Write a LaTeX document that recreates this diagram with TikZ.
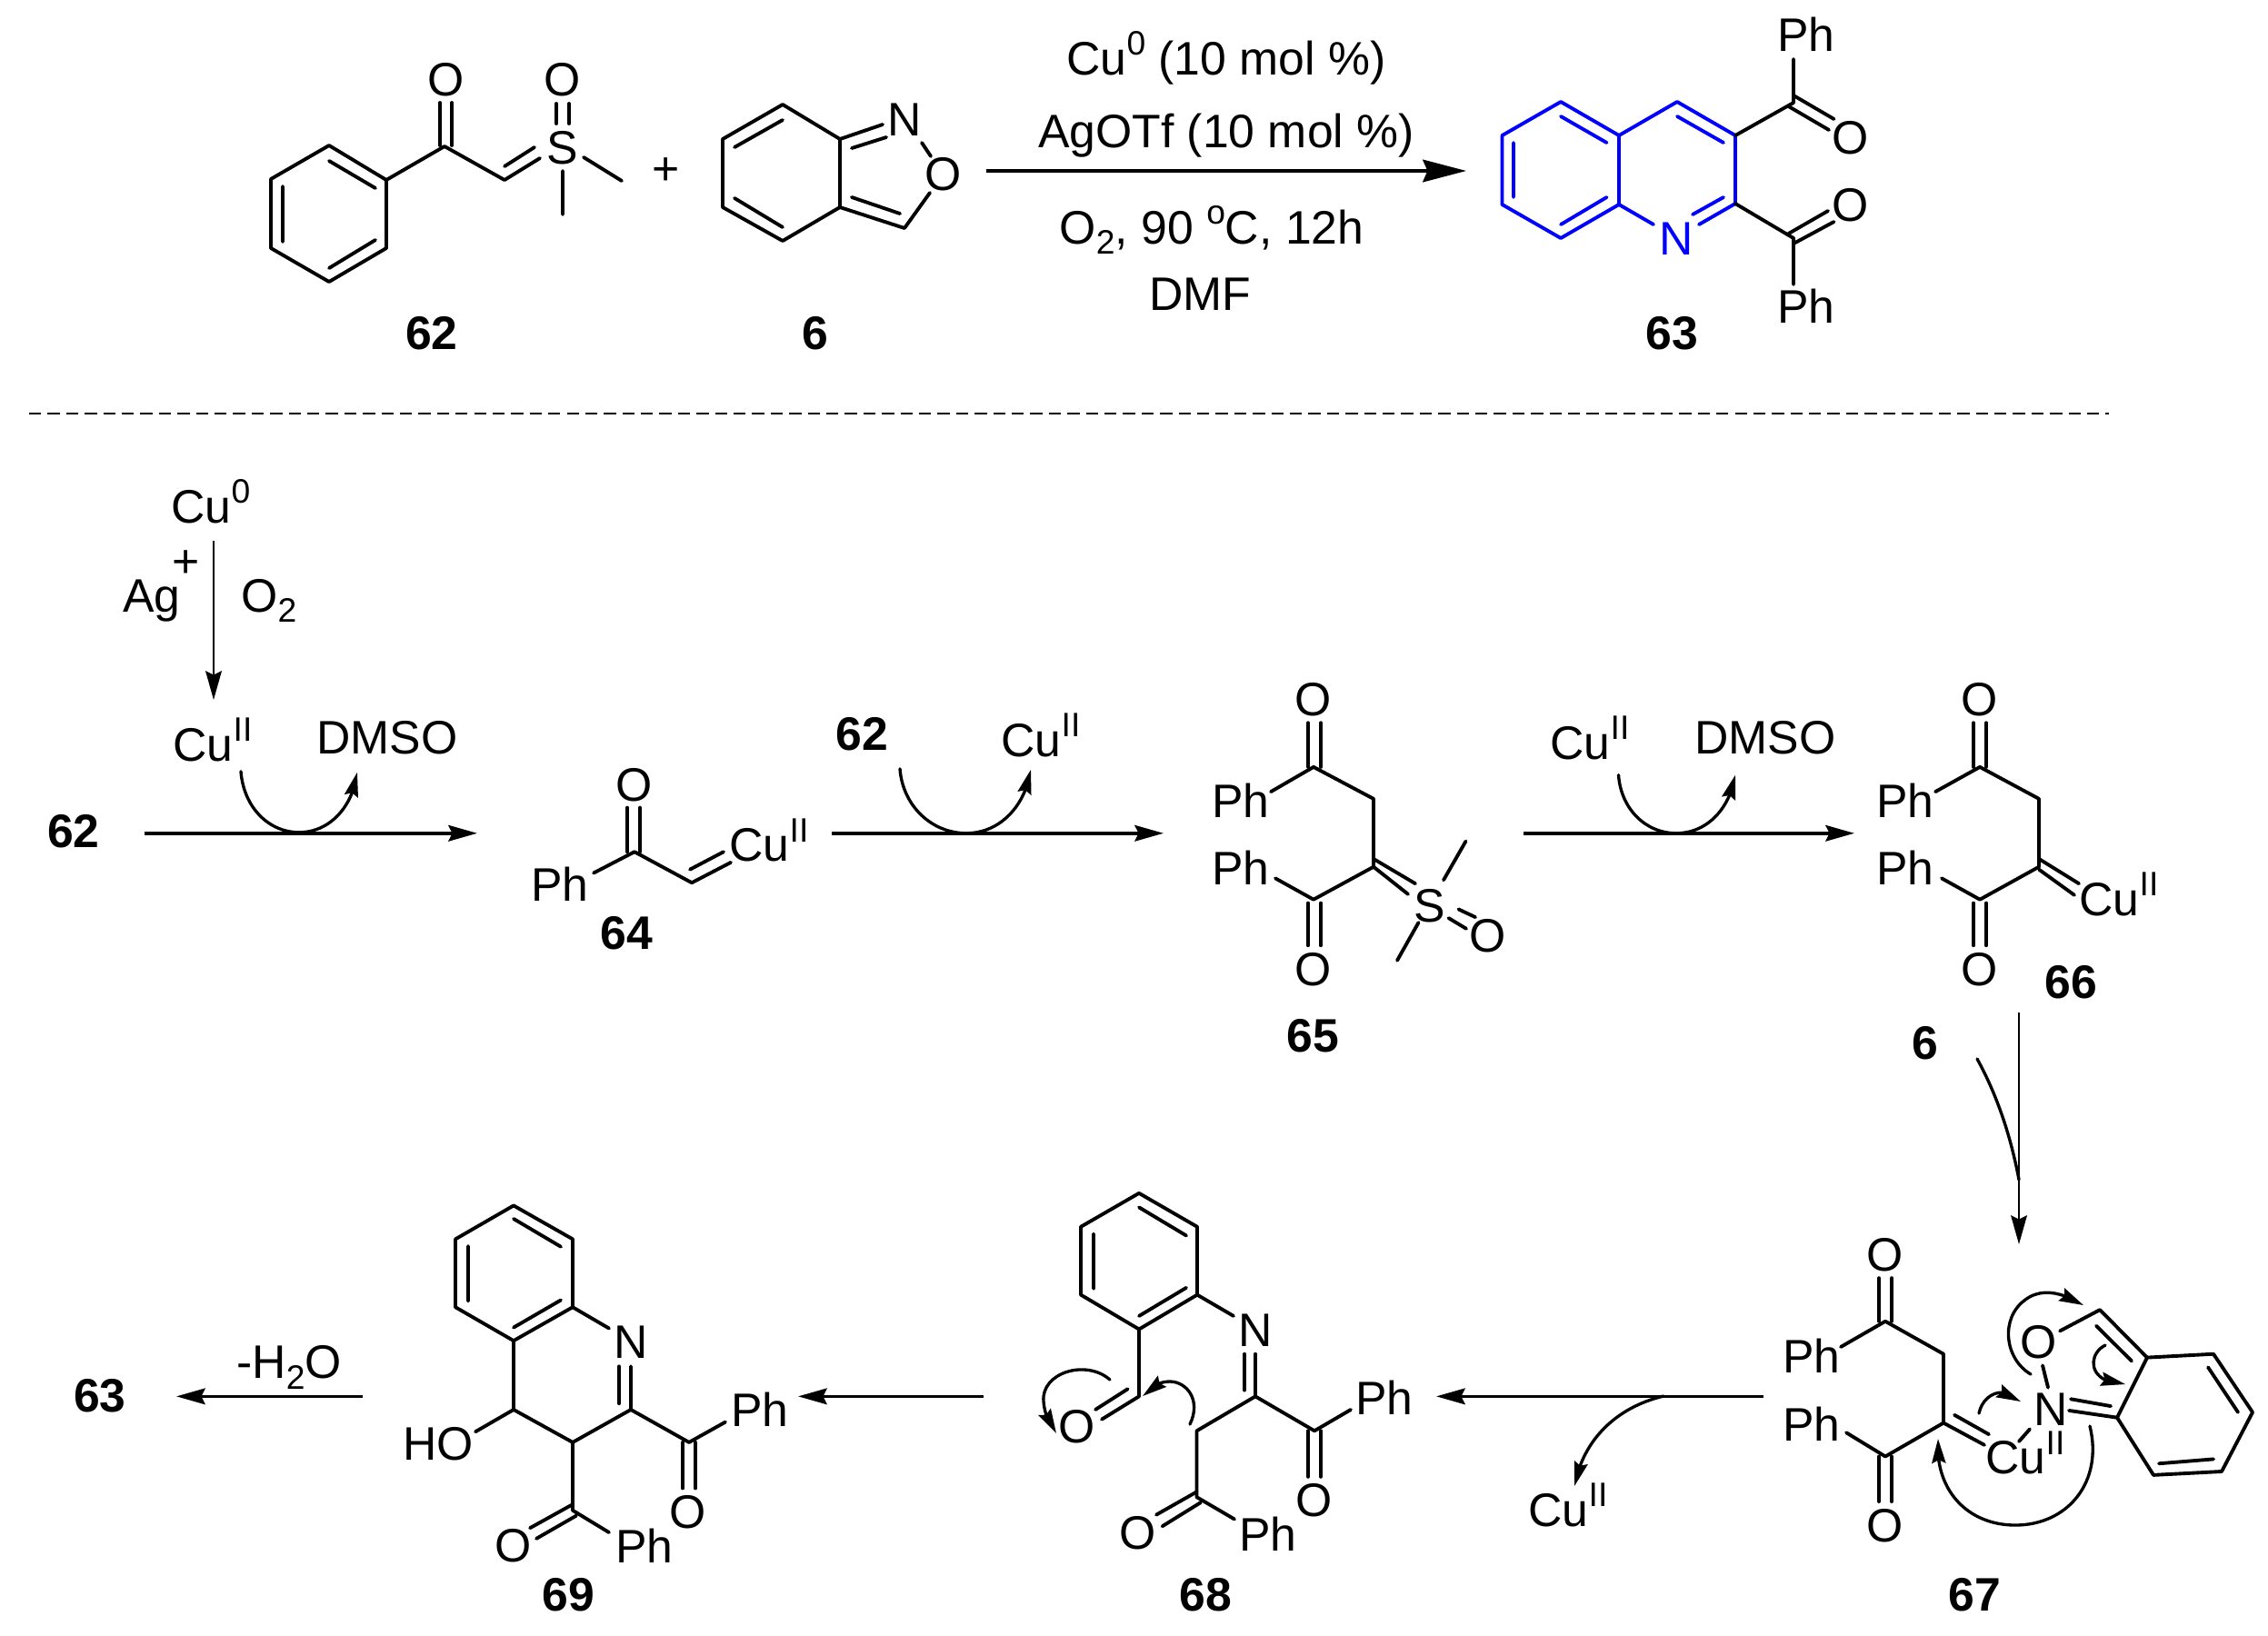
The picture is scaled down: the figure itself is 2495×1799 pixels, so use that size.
\documentclass[tikz,border=0pt]{standalone}
\usepackage{fontspec}
\setmainfont{Liberation Sans}
\usetikzlibrary{arrows.meta,bending}
\newcommand{\sU}[1]{\raisebox{0.42em}{\fontsize{10.6pt}{11pt}\selectfont #1}}
\newcommand{\sD}[1]{\raisebox{-0.22em}{\fontsize{10.6pt}{11pt}\selectfont #1}}
\tikzset{
  bond/.style={line width=1.1pt,line cap=round,line join=round},
  bluebond/.style={bond,draw={rgb,255:red,0;green,0;blue,255}},
  lbl/.style={anchor=base,yshift=-4.98pt,inner sep=0pt,font=\fontsize{14.7pt}{16pt}\selectfont},
  num/.style={lbl,font=\fontsize{14.7pt}{16pt}\selectfont\bfseries},
  tipS/.tip={Stealth[length=9pt,width=5pt,inset=1.2pt]},
  tipB/.tip={Stealth[length=13.6pt,width=7pt,inset=1.5pt]},
  tipC/.tip={Stealth[length=7.6pt,width=4.3pt,inset=1pt]},
  bigrxn/.style={line width=1.05pt,-{tipB}},
  rxn/.style={line width=1.05pt,-{tipS}},
  thinrxn/.style={line width=.8pt,-{tipS}},
  curve/.style={line width=.95pt,line cap=round,-{tipC}},
  rowtwo/.style={shift={(0,21.56)},yscale=.972},
  rowthree/.style={shift={(0,37.52)},yscale=.972},
}
\begin{document}
\begin{tikzpicture}[x=0.01cm,y=-0.01cm]
\useasboundingbox (0,0) rectangle (2495,1799);
% ---------- 62
\draw[bond] (362,160)--(425,198)--(425,273)--(362,310)--(298,273)--(298,197)--cycle;
\draw[bond] (362,177)--(413,207) (311,205)--(311,266) (362,295)--(413,264);
\draw[bond] (425,198)--(489,161)--(555,198)--(594,174);
\draw[bond] (555,183)--(588,162);
\draw[bond] (484,113)--(484,160) (497,113)--(497,160);
\draw[bond] (612,114)--(612,136) (626,114)--(626,136);
\draw[bond] (642,173)--(684,199) (619,188)--(619,236);
\node[lbl] (o62a) at (491,88) {O};
\node[lbl] (o62b) at (619,88) {O};
\node[lbl] (s62) at (619,163) {S};
\node[lbl] (plus) at (733,186) {+};
\node[num] (n62) at (475,367) {62};
% ---------- 6
\draw[bond] (861,115)--(924,153)--(924,228)--(861,265)--(795,228)--(795,153)--cycle;
\draw[bond] (861,132)--(808,162) (808,218)--(861,250);
\draw[bond] (924,153)--(971,137) (937,163)--(975,151);
\draw[bond] (1014,157)--(1024,172) (1023,212)--(995,251)--(924,228);
\draw[bond] (937,217)--(990,235);
\node[lbl] (n6n) at (995,132) {N};
\node[lbl] (n6o) at (1038,192) {O};
\node[num] (n6) at (897,367) {6};
% ---------- conditions
\coordinate (ma) at (1085,188);
\coordinate (mb) at (1613,188);
\draw[bigrxn] (ma)--(mb);
\node[lbl] (c1) at (1349,65) {Cu\sU{0} (10 mol \%)};
\node[lbl] (c2) at (1349,145) {AgOTf (10 mol \%)};
\node[lbl] (c3) at (1333,251) {O\sD{2}, 90 \sU{o}C, 12h};
\node[lbl] (c4) at (1320,324) {DMF};
% ---------- 63
\draw[bluebond] (1717,112)--(1781,149)--(1781,225)--(1717,262)--(1652.5,225)--(1652.5,149)--cycle;
\draw[bluebond] (1717,128)--(1767.5,157) (1665,157)--(1665,217) (1717,247)--(1767.5,217);
\draw[bluebond] (1781,149)--(1845,112)--(1909,149)--(1909,224)--(1869,247);
\draw[bluebond] (1845,128)--(1896,157) (1862,236)--(1896,217) (1781,225)--(1819,247);
\draw[bond] (1909,149)--(1973,113)--(1973,65);
\draw[bond] (1973,105)--(2017.5,131) (1967.5,117)--(2012,143);
\draw[bond] (1909,224)--(1973,262)--(1973,313);
\draw[bond] (1973,268)--(2017.5,244) (1967.5,257)--(2011,232);
\node[lbl,text={rgb,255:red,0;green,0;blue,255}] (n63n) at (1844,263) {N};
\node[lbl] (p63a) at (1987,39) {Ph};
\node[lbl] (p63b) at (1987,338) {Ph};
\node[lbl] (o63a) at (2036,152) {O};
\node[lbl] (o63b) at (2036,226) {O};
\node[num] (n63) at (1839,367) {63};
% ---------- dashed
\coordinate (da) at (32,455);
\coordinate (db) at (2320,455);
\draw[line width=.8pt,dash pattern=on 3.8pt off 2pt] (da)--(db);
% ---------- Cu0 step
\node[lbl] (cu0) at (232,558) {Cu\sU{0}};
\node[lbl] (ag) at (167,656) {Ag};
\node[lbl] (agp) at (205,618) {+};
\node[lbl] (o2) at (296,656) {O\sD{2}};
\coordinate (ca) at (235,595);
\coordinate (cb) at (235,770);
\draw[thinrxn] (ca)--(cb);
% ========== second row
\begin{scope}[rowtwo]
\node[lbl] (cu2a) at (234,821) {Cu\sU{II}};
\node[lbl] (dmso1) at (426,813) {DMSO};
\node[num] (n62b) at (81,919) {62};
\coordinate (a1s) at (159,921);
\coordinate (a1e) at (525,921);
\draw[rxn] (a1s)--(a1e);
\draw[curve] (265,851) .. controls (268,892) and (296,920) .. (329,920) .. controls (362,920) and (388,892) .. (393,852);
% 64
\draw[bond] (653,966)--(698,942)--(761,977)--(804,954);
\draw[bond] (759,962)--(796,942);
\draw[bond] (690,892)--(690,942) (704,892)--(704,942);
\node[lbl] (o64) at (698,867) {O};
\node[lbl] (p64) at (616,980) {Ph};
\node[lbl] (cu64) at (846,935) {Cu\sU{II}};
\node[num] (n64) at (689,1034) {64};
% 62 -> 65
\node[num] (n62c) at (948,809) {62};
\node[lbl] (cu2b) at (1145,816) {Cu\sU{II}};
\coordinate (a2s) at (915,921);
\coordinate (a2e) at (1280,921);
\draw[rxn] (a2s)--(a2e);
\draw[curve] (990,848) .. controls (993,890) and (1025,921) .. (1063,921) .. controls (1100,921) and (1128,890) .. (1134,849);
% 65
\draw[bond] (1398,874)--(1445,846)--(1511,882)--(1511,959)--(1445,996)--(1403,972);
\draw[bond] (1439,796)--(1439,846) (1453,796)--(1453,846);
\draw[bond] (1439,1000)--(1439,1048) (1453,1000)--(1453,1048);
\draw[bond] (1511,959)--(1549,990) (1511,950)--(1557,978);
\draw[bond] (1588,974)--(1612.5,930) (1560.5,1022)--(1537,1065);
\draw[bond] (1593.5,1017)--(1613,1029) (1604.5,1007)--(1623,1016);
\node[lbl] (o65a) at (1445,770) {O};
\node[lbl] (o65b) at (1445,1076) {O};
\node[lbl] (p65a) at (1365,885) {Ph};
\node[lbl] (p65b) at (1365,961) {Ph};
\node[lbl] (s65) at (1573,1003) {S};
\node[lbl] (o65c) at (1637,1037) {O};
\node[num] (n65) at (1444,1151) {65};
% 65 -> 66
\node[lbl] (cu2c) at (1749,819) {Cu\sU{II}};
\node[lbl] (dmso2) at (1942,813) {DMSO};
\coordinate (a3s) at (1676,921);
\coordinate (a3e) at (2040,921);
\draw[rxn] (a3s)--(a3e);
\draw[curve] (1780.5,855) .. controls (1783,893) and (1810,921) .. (1844,921) .. controls (1878,921) and (1903,893) .. (1909,855);
% 66
\draw[bond] (2129,874)--(2178,846)--(2243,882)--(2243,959)--(2178,996)--(2136,972);
\draw[bond] (2171,796)--(2171,846) (2185,796)--(2185,846);
\draw[bond] (2171,1000)--(2171,1048) (2185,1000)--(2185,1048);
\draw[bond] (2243,962)--(2282,991) (2243,950)--(2287,978);
\node[lbl] (o66a) at (2178,770) {O};
\node[lbl] (o66b) at (2178,1076) {O};
\node[lbl] (p66a) at (2096,885) {Ph};
\node[lbl] (p66b) at (2096,961) {Ph};
\node[lbl] (cu66) at (2331,996) {Cu\sU{II}};
\node[num] (n66) at (2278,1090) {66};
\node[num] (n6b) at (2118,1159) {6};
\end{scope}
% 66 -> 67
\coordinate (a4s) at (2221,1114);
\coordinate (a4e) at (2221,1369);
\draw[thinrxn] (a4s)--(a4e);
\draw[line width=.95pt,line cap=round] (2175,1165) .. controls (2197,1205) and (2212,1250) .. (2221,1298);
% ========== third row
\begin{scope}[rowthree]
% 67
\draw[bond] (2025,1486)--(2074,1457)--(2138,1494)--(2138,1572)--(2074,1610)--(2031,1583);
\draw[bond] (2067,1408)--(2067,1457) (2081,1408)--(2081,1457);
\draw[bond] (2067,1610)--(2067,1661) (2081,1610)--(2081,1661);
\draw[bond] (2138,1572)--(2183,1597) (2150,1563)--(2188,1585);
\draw[bond] (2247,1507)--(2253,1532) (2233,1579)--(2221,1593);
\draw[bond] (2266,1468)--(2310,1444)--(2362,1498)--(2329,1566)--(2276,1558);
\draw[bond] (2306,1462)--(2345,1502) (2322,1553)--(2278,1545);
\draw[bond] (2362,1498)--(2435,1494)--(2478,1560)--(2444,1627)--(2369,1631)--(2329,1566);
\draw[bond] (2429,1509)--(2462,1560) (2435,1613)--(2375,1618);
\node[lbl] (o67a) at (2074,1382) {O};
\node[lbl] (o67b) at (2074,1689) {O};
\node[lbl] (p67a) at (1993,1497) {Ph};
\node[lbl] (p67b) at (1993,1574) {Ph};
\node[lbl] (o67c) at (2243,1481) {O};
\node[lbl] (n67) at (2256,1557) {N};
\node[lbl] (cu67) at (2228,1612) {Cu\sU{II}};
\node[num] (l67) at (2172,1767) {67};
% 67 -> 68
\coordinate (a5s) at (1940,1542);
\coordinate (a5e) at (1580,1542);
\draw[rxn] (a5s)--(a5e);
\node[lbl] (cu68) at (1725,1671) {Cu\sU{II}};
% 68
\draw[bond] (1253,1312)--(1317,1350)--(1317,1427)--(1253,1466)--(1189,1427)--(1189,1350)--cycle;
\draw[bond] (1253,1328)--(1305,1360) (1203,1358)--(1203,1420) (1253,1451)--(1305,1419);
\draw[bond] (1317,1427)--(1357,1451);
\draw[bond] (1253,1466)--(1253,1542)--(1212,1568) (1240.6,1533.6)--(1205,1557);
\draw[bond] (1369,1494)--(1369,1535) (1381,1494)--(1381,1542);
\draw[bond] (1381,1542)--(1316.5,1581)--(1316.5,1656)--(1358,1681);
\draw[bond] (1316.5,1650)--(1272,1676) (1321,1662)--(1278.6,1689);
\draw[bond] (1381,1542)--(1446,1581)--(1486,1557);
\draw[bond] (1439,1581)--(1439,1633) (1453,1581)--(1453,1633);
\node[lbl] (n68) at (1381,1468) {N};
\node[lbl] (o68a) at (1185,1577) {O};
\node[lbl] (o68b) at (1252,1697) {O};
\node[lbl] (o68c) at (1446,1660) {O};
\node[lbl] (p68a) at (1523,1545) {Ph};
\node[lbl] (p68b) at (1395,1699) {Ph};
\node[num] (l68) at (1326,1767) {68};
% 68 -> 69
\coordinate (a6s) at (1082,1542);
\coordinate (a6e) at (878,1542);
\draw[rxn] (a6s)--(a6e);
% 69
\draw[bond] (565,1326)--(630,1364)--(630,1441)--(565,1479)--(501,1441)--(501,1364)--cycle;
\draw[bond] (565,1341)--(617,1372.6) (515,1372)--(515,1434) (565,1464)--(617,1433);
\draw[bond] (630,1441)--(670,1465);
\draw[bond] (565,1479)--(565,1557)--(630,1594)--(694,1557)--(694,1508);
\draw[bond] (681,1508)--(681,1550);
\draw[bond] (565,1557)--(523,1582);
\draw[bond] (694,1557)--(758,1594)--(798,1571);
\draw[bond] (751,1594)--(751,1646) (765,1594)--(765,1646);
\draw[bond] (630,1594)--(630,1671)--(670,1696);
\draw[bond] (628.6,1665)--(583,1691) (634,1677)--(590,1703);
\node[lbl] (n69) at (694,1481) {N};
\node[lbl] (ho) at (482,1596) {HO};
\node[lbl] (o69a) at (757,1673) {O};
\node[lbl] (o69b) at (565,1711) {O};
\node[lbl] (p69a) at (836,1558) {Ph};
\node[lbl] (p69b) at (709,1712) {Ph};
\node[num] (l69) at (625,1767) {69};
% 69 -> 63
\coordinate (a7s) at (399,1542);
\coordinate (a7e) at (194,1542);
\draw[rxn] (a7s)--(a7e);
\node[lbl] (h2o) at (318,1504) {-H\sD{2}O};
\node[num] (n63b) at (110,1542) {63};
\end{scope}
% ---------- curved electron arrows (true positions)
\draw[curve] (1830,1536) .. controls (1780,1548) and (1742,1582) .. (1732,1635);
\draw[curve] (2234,1512) .. controls (2205,1495) and (2200,1450) .. (2228,1430) .. controls (2248,1415) and (2272,1424) .. (2292,1436);
\draw[curve] (2316,1480) .. controls (2296,1490) and (2296,1522) .. (2338,1523);
\draw[curve] (2177,1555) .. controls (2181,1535) and (2203,1522) .. (2223,1542);
\draw[curve] (2299,1569) .. controls (2314,1630) and (2275,1678) .. (2217,1678) .. controls (2165,1678) and (2128,1640) .. (2132,1583);
\draw[curve] (1221,1518) .. controls (1195,1495) and (1145,1510) .. (1148,1542) .. controls (1149,1555) and (1154,1567) .. (1162,1577);
\draw[curve] (1309,1567) .. controls (1322,1540) and (1305,1520) .. (1287,1520) .. controls (1275,1520) and (1265,1526) .. (1257,1536);
\end{tikzpicture}
\end{document}
